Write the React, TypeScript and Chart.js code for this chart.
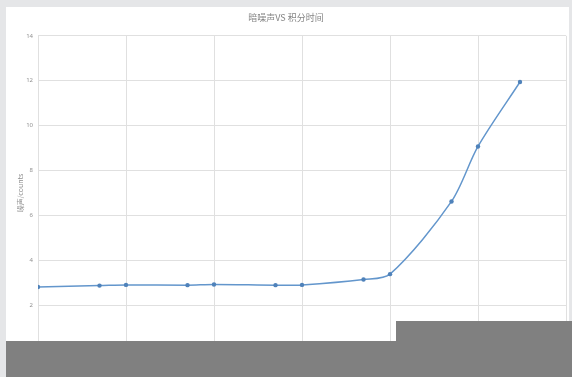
import React, { useEffect, useRef } from "react";
import { Chart, registerables } from "chart.js";

Chart.register(...registerables);

const chartTitle = "暗噪声VS 积分时间";
const yAxisTitle = "噪声/counts";
const integrationTimes = [1, 5, 10, 50, 100, 500, 1000, 5000, 10000, 50000, 100000, 300000];
const noiseValues = [2.81, 2.87, 2.9, 2.89, 2.92, 2.89, 2.9, 3.14, 3.38, 6.62, 9.07, 11.94];
const xDecades = [1, 10, 100, 1000, 10000, 100000, 1000000];

export default function App() {
  const ref = useRef<HTMLCanvasElement | null>(null);

  useEffect(() => {
    document.body.style.margin = "0";
    const canvas = ref.current;
    if (!canvas) return;
    const chart = new Chart(canvas, {
      type: "line",
      data: {
        datasets: [
          {
            data: integrationTimes.map((x, i) => ({ x, y: noiseValues[i] })),
            borderColor: "#6396cc",
            backgroundColor: "#4f82ba",
            borderWidth: 1.5,
            pointRadius: 2.2,
            pointBorderWidth: 0,
            pointBackgroundColor: "#4f82ba",
            tension: 0.3,
            fill: false,
          },
        ],
      },
      options: {
        animation: false,
        responsive: false,
        maintainAspectRatio: false,
        layout: { padding: { left: 6, right: 6, top: 7, bottom: 0 } },
        plugins: {
          legend: { display: false },
          tooltip: { enabled: false },
          title: {
            display: true,
            text: chartTitle,
            color: "#858585",
            font: { family: "'Noto Sans CJK SC', 'Noto Sans'", size: 9, weight: "normal" },
            padding: { top: 5, bottom: 13 },
          },
        },
        scales: {
          x: {
            type: "logarithmic",
            min: 1,
            max: 1000000,
            afterBuildTicks: (scale: any) => {
              scale.ticks = xDecades.map((v) => ({ value: v }));
            },
            afterFit: (scale: any) => {
              scale.height = 27;
            },
            ticks: { display: false },
            border: { display: false },
            grid: { color: "#e0e0e0", lineWidth: 1, drawTicks: false },
          },
          y: {
            min: 0,
            max: 14,
            afterFit: (scale: any) => {
              scale.width = 32;
            },
            ticks: {
              stepSize: 2,
              color: "#909090",
              padding: 5,
              font: { family: "'Noto Sans'", size: 6 },
            },
            title: {
              display: true,
              text: yAxisTitle,
              color: "#909090",
              font: { family: "'Noto Sans CJK SC', 'Noto Sans'", size: 7 },
              padding: { top: 10, bottom: 0 },
            },
            border: { display: false },
            grid: { color: "#e0e0e0", lineWidth: 1, drawTicks: false },
          },
        },
      },
    });
    return () => chart.destroy();
  }, []);

  return (
    <div style={{ position: "fixed", left: 0, top: 0, width: 572, height: 377, background: "#e5e6e8", overflow: "hidden" }}>
      <div style={{ position: "absolute", left: 6, top: 7, width: 563, height: 370, background: "#ffffff" }} />
      <canvas ref={ref} width={572} height={377} style={{ position: "absolute", left: 0, top: 0, width: 572, height: 377 }} />
      <div style={{ position: "absolute", left: 6, top: 341, width: 566, height: 36, background: "#808080" }} />
      <div style={{ position: "absolute", left: 396, top: 321, width: 176, height: 20, background: "#808080" }} />
    </div>
  );
}
